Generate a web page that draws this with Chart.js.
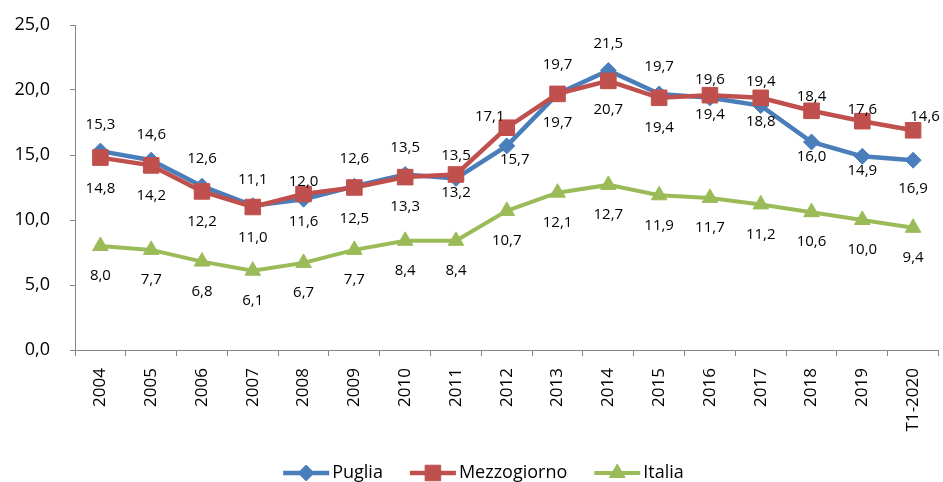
<!DOCTYPE html>
<html>
<head>
<meta charset="utf-8">
<script src="https://cdn.jsdelivr.net/npm/chart.js@4/dist/chart.umd.min.js"></script>
<style>
  html, body { margin: 0; padding: 0; background: #fff; }
  #wrap { width: 943px; height: 482px; }
</style>
</head>
<body>
<div id="wrap"><canvas id="c" width="943" height="482"></canvas></div>
<script>
// ---- Data ----
const categories = ['2004','2005','2006','2007','2008','2009','2010','2011','2012','2013','2014','2015','2016','2017','2018','2019','T1-2020'];
const puglia      = [15.3,14.6,12.6,11.1,11.6,12.6,13.5,13.2,15.7,19.7,21.5,19.7,19.4,18.8,16.0,14.9,14.6];
const mezzogiorno = [14.8,14.2,12.2,11.0,12.0,12.5,13.3,13.5,17.1,19.7,20.7,19.4,19.6,19.4,18.4,17.6,16.9];
const italia      = [8.0,7.7,6.8,6.1,6.7,7.7,8.4,8.4,10.7,12.1,12.7,11.9,11.7,11.2,10.6,10.0,9.4];
const yTicks = [0,5,10,15,20,25];
const seriesNames = ['Puglia','Mezzogiorno','Italia'];

// ---- Label placement (pixel offsets from each point, as in the original) ----
const pugliaLabelDy = [-26,-25,-27,-26,23,-27,-27,14,14,-29,-27,-27,17,16,15,14,-43];
const pugliaLabelDx = [0,0,0,0,0,0,0,0,8,0,0,0,0,0,0,0,12];
const mezzLabelDy   = [31,30,30,31,-12,31,30,-19,-11,29,29,30,-15,-16,-14,-11,58];
const mezzLabelDx   = [0,0,0,0,0,0,0,0,-17,0,0,0,0,0,0,0,0];
const italiaLabelDy = 30;

const BLUE = '#4A7EBB', RED = '#C0504D', GREEN = '#9BBB59', AXIS = '#868686';
const FONT = "'Open Sans', 'Noto Sans', sans-serif";

const fmt = v => v.toFixed(1).replace('.', ',');

const labelPlugin = {
  id: 'pointLabels',
  afterDatasetsDraw(chart) {
    const ctx = chart.ctx;
    ctx.save();
    ctx.font = '15px ' + FONT;
    ctx.fillStyle = '#000';
    ctx.textAlign = 'center';
    ctx.textBaseline = 'middle';
    chart.data.datasets.forEach((ds, di) => {
      const meta = chart.getDatasetMeta(di);
      meta.data.forEach((pt, i) => {
        let dx = 0, dy = 0;
        if (ds.label === 'Puglia') { dx = pugliaLabelDx[i]; dy = pugliaLabelDy[i]; }
        else if (ds.label === 'Mezzogiorno') { dx = mezzLabelDx[i]; dy = mezzLabelDy[i]; }
        else { dy = italiaLabelDy; }
        ctx.fillText(fmt(ds.data[i]), pt.x + dx, pt.y + dy);
      });
    });
    ctx.restore();
  }
};

function drawMarker(ctx, style, r, x, y, color) {
  ctx.save();
  ctx.fillStyle = color;
  ctx.strokeStyle = color;
  ctx.lineWidth = 1;
  Chart.helpers.drawPoint(ctx, { pointStyle: style, radius: r, borderWidth: 1 }, x, y);
  ctx.restore();
}

const legendPlugin = {
  id: 'customLegend',
  afterDraw(chart) {
    const ctx = chart.ctx;
    ctx.save();
    ctx.font = '18px ' + FONT;
    const lineLen = 46, textGap = 3, itemGap = 27;
    const items = chart.data.datasets.map(ds => ({ ds, w: ctx.measureText(ds.label).width }));
    let total = 0;
    items.forEach((it, i) => { total += lineLen + textGap + it.w + (i < items.length - 1 ? itemGap : 0); });
    let x = 483.5 - total / 2;
    const y = 473;
    items.forEach(it => {
      const ds = it.ds;
      ctx.strokeStyle = ds.borderColor;
      ctx.lineWidth = ds.borderWidth;
      ctx.beginPath();
      ctx.moveTo(x, y);
      ctx.lineTo(x + lineLen, y);
      ctx.stroke();
      drawMarker(ctx, ds.pointStyle, ds.pointRadius, x + lineLen / 2, y, ds.borderColor);
      ctx.fillStyle = '#000';
      ctx.textAlign = 'left';
      ctx.textBaseline = 'middle';
      ctx.font = '18px ' + FONT;
      ctx.fillText(ds.label, x + lineLen + textGap, y);
      x += lineLen + textGap + it.w + itemGap;
    });
    ctx.restore();
  }
};

new Chart(document.getElementById('c'), {
  type: 'line',
  data: {
    labels: categories,
    datasets: [
      { label: seriesNames[0], data: puglia, borderColor: BLUE, backgroundColor: BLUE,
        borderWidth: 4.5, pointStyle: 'rectRot', pointRadius: 8, pointBorderWidth: 1,
        pointBackgroundColor: BLUE, pointBorderColor: BLUE, order: 1, tension: 0 },
      { label: seriesNames[1], data: mezzogiorno, borderColor: RED, backgroundColor: RED,
        borderWidth: 4.5, pointStyle: 'rect', pointRadius: 11, pointBorderWidth: 1,
        pointBackgroundColor: RED, pointBorderColor: RED, order: 0, tension: 0 },
      { label: seriesNames[2], data: italia, borderColor: GREEN, backgroundColor: GREEN,
        borderWidth: 4, pointStyle: 'triangle', pointRadius: 9, pointBorderWidth: 1,
        pointBackgroundColor: GREEN, pointBorderColor: GREEN, order: 2, tension: 0 }
    ]
  },
  options: {
    responsive: false,
    animation: false,
    devicePixelRatio: 1,
    layout: { autoPadding: false, padding: { top: 25, left: 0, right: 4.5, bottom: 0 } },
    plugins: { legend: { display: false }, tooltip: { enabled: false } },
    scales: {
      x: {
        type: 'category',
        offset: true,
        grid: { offset: true, drawOnChartArea: false, drawTicks: true, tickLength: 6, tickColor: AXIS },
        border: { display: true, color: AXIS, width: 1 },
        ticks: { autoSkip: false, minRotation: 90, maxRotation: 90, padding: 12,
                 color: '#000', font: { family: FONT, size: 17 } },
        afterFit(scale) { scale.height = 132; scale.paddingLeft = 0; scale.paddingRight = 0; }
      },
      y: {
        min: 0, max: 25,
        afterBuildTicks(scale) { scale.ticks = yTicks.map(v => ({ value: v })); },
        grid: { drawOnChartArea: false, drawTicks: true, tickLength: 5, tickColor: AXIS },
        border: { display: true, color: AXIS, width: 1 },
        ticks: { padding: 20, color: '#000', font: { family: FONT, size: 18 },
                 callback: v => fmt(v) },
        afterFit(scale) { scale.width = 75; scale.paddingTop = 0; scale.paddingBottom = 0; }
      }
    }
  },
  plugins: [labelPlugin, legendPlugin]
});
</script>
</body>
</html>
